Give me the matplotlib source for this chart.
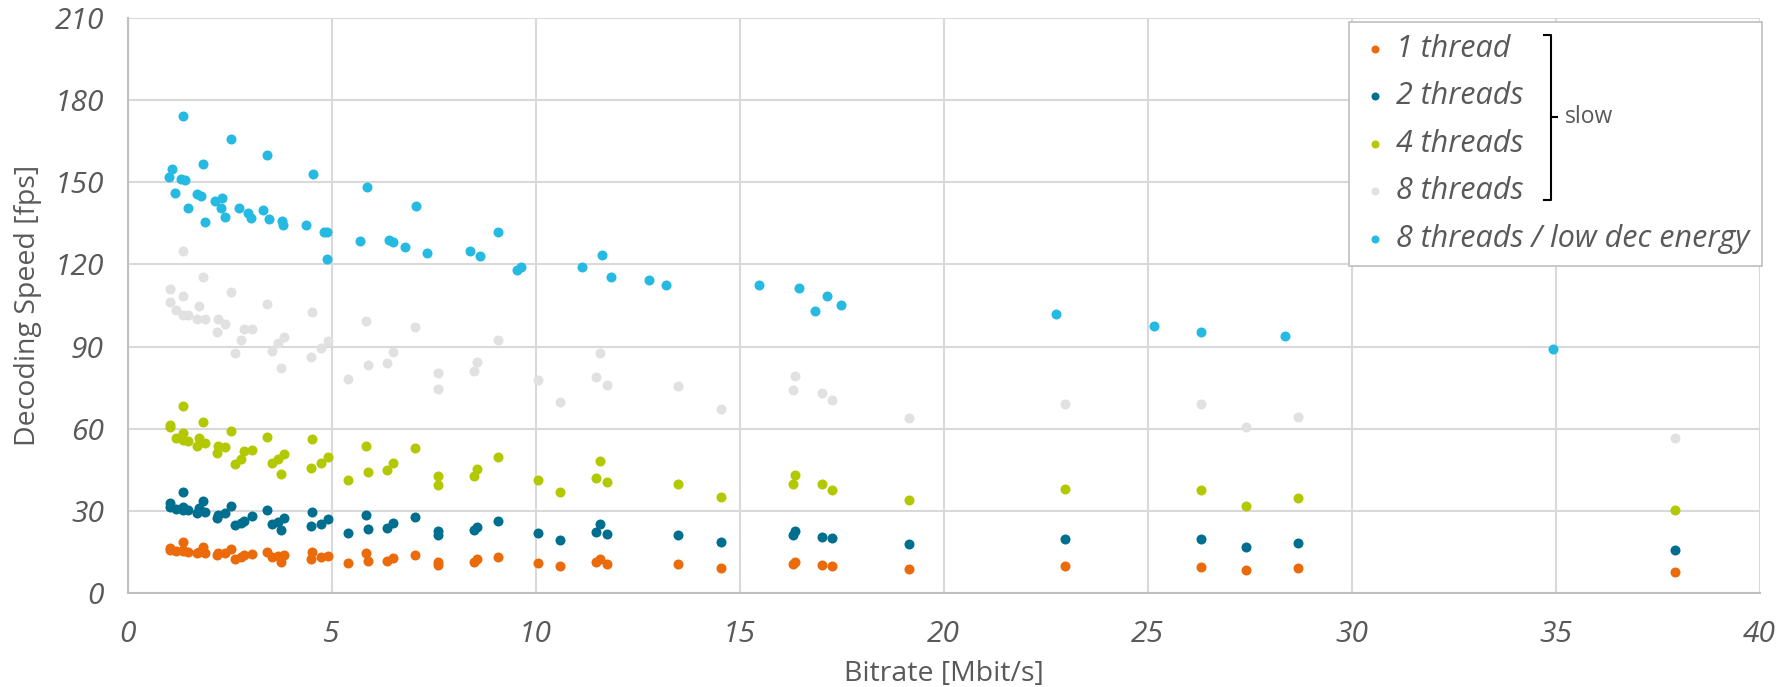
import matplotlib
matplotlib.use("Agg")
import matplotlib.pyplot as plt

plt.rcParams['font.family'] = ['Open Sans', 'DejaVu Sans']

# bitrate [Mbit/s] shared by the 1/2/4/8 thread runs
bitrate = [1.04, 1.04, 1.18, 1.35, 1.35, 1.35, 1.49, 1.71, 1.74, 1.85, 1.90, 2.18, 2.22, 2.39,
           2.53, 2.63, 2.79, 2.86, 3.04, 3.41, 3.54, 3.69, 3.77, 3.84, 4.49, 4.53, 4.74, 4.90,
           5.41, 5.84, 5.88, 6.36, 6.50, 7.05, 7.61, 7.61, 8.50, 8.57, 9.07, 10.07, 10.60, 11.49,
           11.59, 11.75, 13.50, 14.54, 16.31, 16.36, 17.03, 17.27, 19.16, 22.98, 26.31, 27.42,
           28.68, 37.92]

fps_8 = [111.2, 106.4, 103.5, 125.0, 108.6, 101.6, 101.6, 100.0, 105.0, 115.3, 100.0, 95.4, 100.2,
         98.3, 109.8, 87.8, 92.3, 96.6, 96.6, 105.6, 88.5, 91.5, 82.2, 93.6, 86.4, 102.8, 89.4,
         92.2, 78.1, 99.5, 83.3, 84.2, 88.2, 97.2, 80.5, 74.6, 81.2, 84.4, 92.3, 77.7, 69.7, 79.1,
         87.7, 76.1, 75.7, 67.2, 74.1, 79.4, 73.2, 70.7, 64.0, 69.1, 69.0, 60.6, 64.2, 56.8]

fps_4 = [60.7, 61.5, 56.6, 68.4, 58.4, 55.8, 55.7, 53.9, 56.6, 62.5, 54.7, 51.1, 53.9, 53.5, 59.3,
         47.2, 49.0, 52.0, 52.4, 56.9, 47.4, 48.9, 43.5, 50.9, 45.8, 56.2, 47.6, 49.9, 41.4, 53.8,
         44.2, 45.0, 47.6, 53.2, 42.8, 39.4, 42.9, 45.4, 49.8, 41.2, 37.0, 42.2, 48.3, 40.6, 39.8,
         35.1, 40.0, 43.1, 39.9, 37.7, 34.1, 38.2, 37.8, 31.7, 34.9, 30.4]

fps_2 = [33.1, 31.6, 30.9, 37.1, 31.6, 30.3, 30.4, 29.2, 31.1, 33.7, 29.7, 27.4, 28.6, 29.2, 31.9,
         24.8, 25.8, 26.5, 28.2, 30.4, 25.3, 25.9, 23.1, 27.5, 24.5, 29.6, 25.4, 27.1, 21.9, 28.5,
         23.6, 23.8, 25.8, 27.8, 22.8, 21.2, 23.0, 24.3, 26.5, 21.9, 19.6, 22.5, 25.2, 21.5, 21.2,
         18.6, 21.2, 22.8, 20.7, 20.1, 18.0, 19.7, 19.7, 16.9, 18.4, 15.8]

fps_1 = [16.4, 15.9, 15.5, 18.6, 15.8, 15.5, 15.2, 14.6, 15.2, 17.0, 14.8, 13.9, 14.6, 14.8, 16.1,
         12.6, 13.4, 14.0, 14.3, 15.2, 13.1, 13.6, 11.5, 14.0, 12.4, 15.0, 13.1, 13.6, 11.1, 14.6,
         11.8, 11.9, 12.8, 13.9, 11.5, 10.3, 11.5, 12.4, 13.2, 10.9, 9.9, 11.3, 12.5, 10.7, 10.7,
         9.3, 10.7, 11.3, 10.3, 10.1, 8.9, 9.9, 9.7, 8.5, 9.2, 7.9]

# 8 threads / low dec energy has its own bitrates
bitrate_le = [1.02, 1.08, 1.17, 1.32, 1.35, 1.40, 1.49, 1.69, 1.79, 1.85, 1.89, 2.14, 2.29, 2.32,
              2.39, 2.54, 2.73, 2.95, 3.02, 3.33, 3.42, 3.46, 3.79, 3.82, 4.36, 4.55, 4.81, 4.88,
              4.88, 5.69, 5.86, 6.41, 6.51, 6.81, 7.07, 7.33, 8.39, 8.63, 9.08, 9.55, 9.63, 11.13,
              11.63, 11.85, 12.77, 13.19, 15.47, 16.45, 16.85, 17.15, 17.49, 22.75, 25.16, 26.30,
              28.37, 34.93]
fps_le = [152.0, 154.7, 146.2, 151.1, 174.3, 150.7, 140.5, 145.7, 145.0, 156.6, 135.6, 143.3,
          140.7, 144.2, 137.4, 165.9, 140.7, 138.7, 136.9, 139.9, 160.0, 136.5, 136.0, 134.4,
          134.3, 153.0, 132.0, 132.0, 122.0, 128.7, 148.4, 128.9, 128.1, 126.4, 141.4, 124.1,
          125.0, 123.2, 131.8, 118.0, 119.2, 119.0, 123.6, 115.3, 114.2, 112.4, 112.4, 111.5,
          103.0, 108.6, 105.2, 101.9, 97.4, 95.4, 93.8, 89.05]

series = [
    ("1 thread", bitrate, fps_1, "#EB6A0A"),
    ("2 threads", bitrate, fps_2, "#006E8F"),
    ("4 threads", bitrate, fps_4, "#B2C800"),
    ("8 threads", bitrate, fps_8, "#E1E1E1"),
    ("8 threads / low dec energy", bitrate_le, fps_le, "#25BAE2"),
]

text_col = "#595959"
grid_col = "#D9D9D9"

fig = plt.figure(figsize=(17.9, 6.87), dpi=100)
ax = fig.add_axes([0.0713, 0.1364, 0.9117, 0.8376])

for name, xs, ys, col in series:
    ax.scatter(xs, ys, s=52, color=col, label=name, linewidths=0, zorder=3)

ax.set_xlim(0, 40)
ax.set_ylim(0, 210)
ax.set_xticks(range(0, 41, 5))
ax.set_yticks(range(0, 211, 30))
ax.grid(True, color=grid_col, linewidth=1.5)
ax.set_axisbelow(True)
for side in ["top", "right"]:
    ax.spines[side].set_visible(False)
for side in ["left", "bottom"]:
    ax.spines[side].set_color("#BFBFBF")
    ax.spines[side].set_linewidth(1.5)
ax.tick_params(length=0, labelsize=21.5, labelcolor=text_col)
ax.tick_params(axis="y", pad=17)
ax.tick_params(axis="x", pad=19)
for lbl in ax.get_xticklabels() + ax.get_yticklabels():
    lbl.set_fontstyle("italic")

ax.set_xlabel("Bitrate [Mbit/s]", fontsize=20.5, color=text_col, labelpad=8)
ax.set_ylabel("Decoding Speed [fps]", fontsize=20.5, color=text_col, labelpad=9)

leg = ax.legend(loc="upper right", bbox_to_anchor=(1.0014, 0.9933), borderaxespad=0,
                prop={"size": 22, "style": "italic"}, labelcolor=text_col,
                frameon=True, fancybox=False, edgecolor="#BFBFBF", framealpha=1,
                handlelength=0.9, handletextpad=0.25, labelspacing=0.57,
                borderpad=0.4, markerscale=0.8)
leg.get_frame().set_linewidth(1.2)

# bracket grouping the slow presets
bx = 0.872
ax.plot([bx - 0.004, bx, bx, bx - 0.004], [0.970, 0.970, 0.684, 0.684],
        transform=ax.transAxes, color="black", lw=1.5, clip_on=False, zorder=6)
ax.plot([bx, bx + 0.004], [0.827, 0.827], transform=ax.transAxes,
        color="black", lw=1.5, clip_on=False, zorder=6)
ax.text(bx + 0.009, 0.827, "slow", transform=ax.transAxes, fontsize=16.5,
        color=text_col, va="center", ha="left", zorder=6)

fig.savefig("out.png", dpi=100)
